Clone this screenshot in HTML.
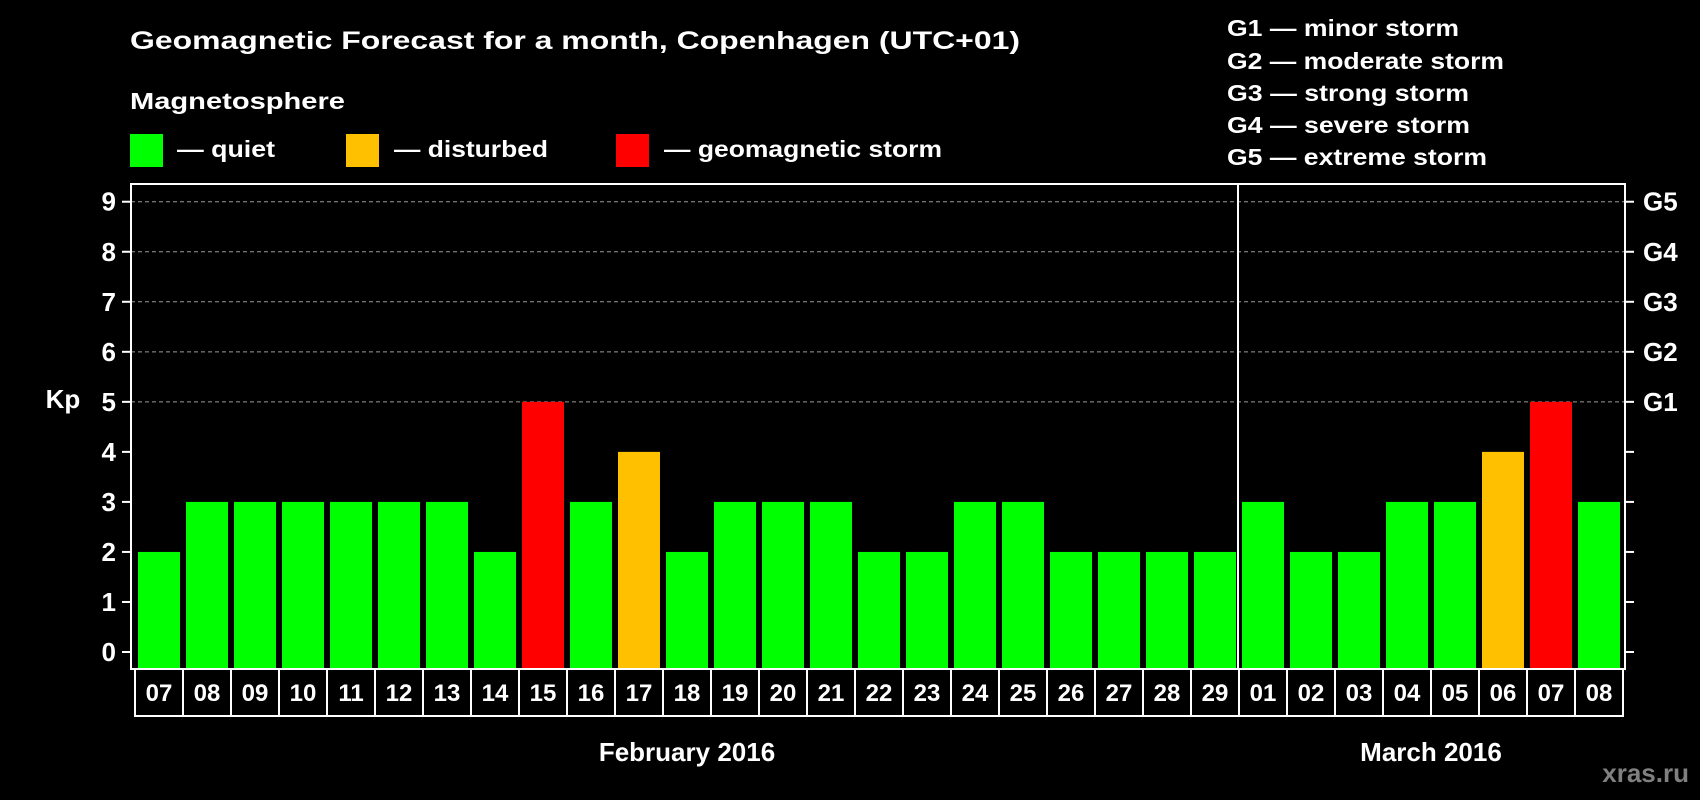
<!DOCTYPE html>
<html><head><meta charset="utf-8"><style>
html,body{margin:0;padding:0;background:#000;}
svg{display:block;font-family:"Liberation Sans",Arial,sans-serif;font-weight:bold;}
</style></head><body>
<svg id="chart" width="1700" height="800" viewBox="0 0 1700 800">
<rect width="1700" height="800" fill="#000"/>
<text x="130" y="49" fill="#fff" font-size="25" textLength="890" lengthAdjust="spacingAndGlyphs">Geomagnetic Forecast for a month, Copenhagen (UTC+01)</text>
<text x="130" y="109" fill="#fff" font-size="23" textLength="215" lengthAdjust="spacingAndGlyphs">Magnetosphere</text>
<g>
<rect x="130" y="134" width="33" height="33" fill="#00ff00"/>
<text x="177" y="157" fill="#fff" font-size="23" textLength="98" lengthAdjust="spacingAndGlyphs">— quiet</text></g>
<g>
<rect x="346" y="134" width="33" height="33" fill="#ffc000"/>
<text x="394" y="157" fill="#fff" font-size="23" textLength="154" lengthAdjust="spacingAndGlyphs">— disturbed</text></g>
<g>
<rect x="616" y="134" width="33" height="33" fill="#ff0000"/>
<text x="664" y="157" fill="#fff" font-size="23" textLength="278" lengthAdjust="spacingAndGlyphs">— geomagnetic storm</text></g>
<g fill="#fff" font-size="23">
<text x="1227" y="36" textLength="232" lengthAdjust="spacingAndGlyphs">G1 — minor storm</text>
<text x="1227" y="69" textLength="277" lengthAdjust="spacingAndGlyphs">G2 — moderate storm</text>
<text x="1227" y="101" textLength="242" lengthAdjust="spacingAndGlyphs">G3 — strong storm</text>
<text x="1227" y="133" textLength="243" lengthAdjust="spacingAndGlyphs">G4 — severe storm</text>
<text x="1227" y="165" textLength="260" lengthAdjust="spacingAndGlyphs">G5 — extreme storm</text>
</g>
<g id="grid"></g>
<g id="bars"></g>
<g id="axes"></g>
<text x="63" y="408" fill="#fff" font-size="26" text-anchor="middle">Kp</text>
<text x="687" y="761" fill="#fff" font-size="26" text-anchor="middle">February 2016</text>
<text x="1431" y="761" fill="#fff" font-size="26" text-anchor="middle">March 2016</text>
<text x="1689" y="782" fill="#808080" font-size="26" text-anchor="end">xras.ru</text>
</svg>
<script>
const days = ["07","08","09","10","11","12","13","14","15","16","17","18","19","20","21","22","23","24","25","26","27","28","29","01","02","03","04","05","06","07","08"];
const kpValues = [2,3,3,3,3,3,3,2,5,3,4,2,3,3,3,2,2,3,3,2,2,2,2,3,2,2,3,3,4,5,3];
const yTicks = [0,1,2,3,4,5,6,7,8,9];
const gLabels = ["G1","G2","G3","G4","G5"];
const gLevels = [5,6,7,8,9];
const monthBreakIndex = 23;

const NS = "http://www.w3.org/2000/svg";
const L = 131, R = 1625, T = 184, B = 669;
const x0 = 135, step = 48, barW = 42, barOff = 3;
const y = v => 652 - v * 50.03;
const xCell = i => x0 + i * step;
function mk(tag, attrs, parent){ const e = document.createElementNS(NS, tag); for (const k in attrs) e.setAttribute(k, attrs[k]); parent.appendChild(e); return e; }
const grid = document.getElementById("grid"), bars = document.getElementById("bars"), axes = document.getElementById("axes");

yTicks.forEach(v => {
  if (v >= 5) {
    const gl = mk("line", {x1: L, x2: R, y1: y(v), y2: y(v), stroke: "#999", "stroke-width": 1, "stroke-dasharray": "4,3"}, grid);
    
    
  }
  const t = mk("line", {x1: L - 9, x2: L, y1: y(v), y2: y(v), stroke: "#fff", "stroke-width": 2}, axes);
  
  
  const t2 = mk("line", {x1: R, x2: R + 9, y1: y(v), y2: y(v), stroke: "#fff", "stroke-width": 2}, axes);
  
  
  const lb = mk("text", {x: 116, y: y(v) + 9, fill: "#fff", "font-size": 26, "text-anchor": "end"}, axes);
  lb.textContent = v;
  
  
});
gLabels.forEach((g, i) => {
  const lb = mk("text", {x: 1643, y: y(gLevels[i]) + 9, fill: "#fff", "font-size": 26}, axes);
  lb.textContent = g;
  
  
});

kpValues.forEach((v, i) => {
  const col = v >= 5 ? "#ff0000" : (v >= 4 ? "#ffc000" : "#00ff00");
  const b = mk("rect", {x: xCell(i) + barOff, y: y(v), width: barW, height: y(0) + 17 - y(v), fill: col}, bars);
  
  
  const c = mk("rect", {x: xCell(i), y: B, width: step, height: 47, fill: "#000", stroke: "#fff", "stroke-width": 2}, axes);
  
  
  const t = mk("text", {x: xCell(i) + step / 2, y: B + 32, fill: "#fff", "font-size": 24, "text-anchor": "middle"}, axes);
  t.textContent = days[i];
  
  
});

const frame = mk("rect", {x: L, y: T, width: R - L, height: B - T, fill: "none", stroke: "#fff", "stroke-width": 2}, axes);


const dx = xCell(monthBreakIndex) - 1;
const div = mk("line", {x1: dx, x2: dx, y1: T, y2: B, stroke: "#fff", "stroke-width": 2}, axes);


</script>
</body></html>
